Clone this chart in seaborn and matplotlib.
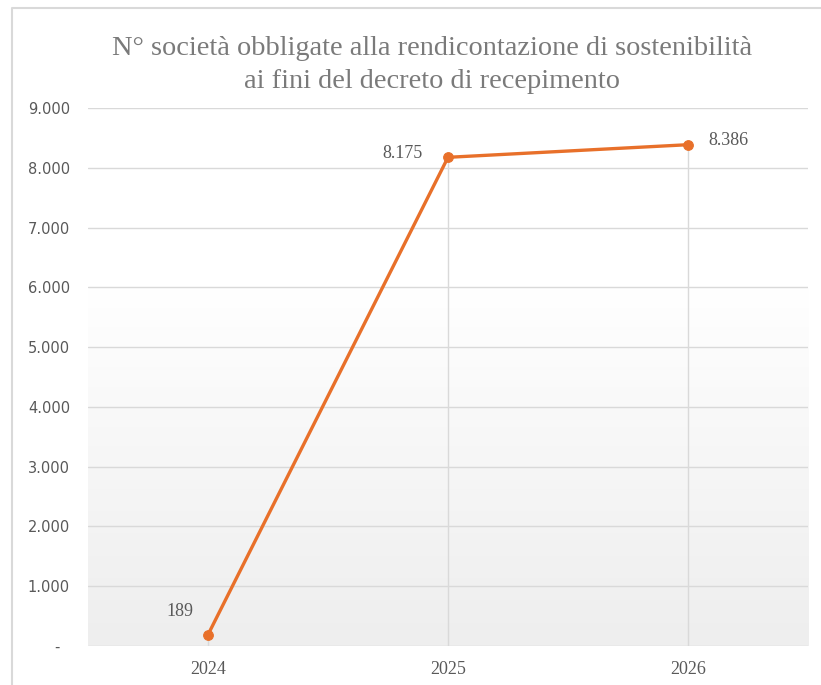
import numpy as np
import pandas as pd
import matplotlib
matplotlib.use("Agg")
import matplotlib.pyplot as plt
import matplotlib.transforms as mtransforms
import seaborn as sns
from matplotlib.colors import LinearSegmentedColormap
from matplotlib.lines import Line2D

years = ["2024", "2025", "2026"]
companies = [189, 8175, 8386]
ytick_values = [0, 1000, 2000, 3000, 4000, 5000, 6000, 7000, 8000, 9000]
ytick_labels = ["-", "1.000", "2.000", "3.000", "4.000", "5.000", "6.000", "7.000", "8.000", "9.000"]
title = "N° società obbligate alla rendicontazione di sostenibilità\nai fini del decreto di recepimento"

sns.set_theme(style="white")
plt.rcParams['font.family'] = ['Liberation Serif', 'DejaVu Serif']

df = pd.DataFrame({"year": years, "n": companies})
fig = plt.figure(figsize=(8.21, 6.85), dpi=100)
fig.patch.set_facecolor("white")
# chart frame (top and left edges visible)
fig.lines.append(Line2D([12/821, 12/821, 1.0], [0, 1 - 8/685, 1 - 8/685], transform=fig.transFigure,
                        color="#d9d9d9", lw=1.5))
ax = fig.add_axes([88/821, 1 - 646/685, 720/821, 538/685])

line_color = "#E8702A"
text_color = "#595959"

# background gradient
cmap = LinearSegmentedColormap.from_list("g", ["#eeeeee", "#f6f6f6", "#ffffff", "#ffffff"])
grad = np.linspace(0, 1, 256).reshape(-1, 1)
ax.imshow(grad, extent=(-0.5, 2.5, 0, 9000), aspect="auto", cmap=cmap, origin="lower", zorder=0)

for v in ytick_values:
    ax.axhline(v, color="#d9d9d9", lw=1.0, zorder=1)

# drop lines
ax.vlines(range(len(years)), 0, companies, color="#d9d9d9", lw=1.0, zorder=1)

sns.lineplot(data=df, x="year", y="n", sort=False, ax=ax, color=line_color, lw=2.4,
             marker="o", markersize=7, markeredgecolor=line_color, zorder=3)

offsets = [(-20, 17), (-33, 3), (29, 3)]
for i, (v, off) in enumerate(zip(companies, offsets)):
    lbl = f"{v:,}".replace(",", ".")
    ax.annotate(lbl, (i, v), xytext=off, textcoords="offset points", ha="center", va="center",
                fontsize=13, color=text_color)

ax.set_xlim(-0.5, 2.5)
ax.set_ylim(0, 9000)
ax.set_yticks(ytick_values)
ax.set_yticklabels(ytick_labels, family=["DejaVu Sans"])
ax.set_xlabel("")
ax.set_ylabel("")
for s in ax.spines.values():
    s.set_visible(False)
ax.tick_params(axis="y", length=0, pad=13, labelsize=10.5, labelcolor=text_color)
ax.tick_params(axis="x", length=0, pad=11, labelsize=13, labelcolor=text_color)

# accounting-style dash for zero sits left of the right edge
zero_lbl = ax.get_yticklabels()[0]
zero_lbl.set_transform(zero_lbl.get_transform() +
                       mtransforms.ScaledTranslation(-10/100, 0, fig.dpi_scale_trans))

fig.text(432/821, 1 - 65/685, title, ha="center", va="center", fontsize=20.4,
         color="#7a7a7a", linespacing=1.38)

fig.savefig("out.png", dpi=100)
